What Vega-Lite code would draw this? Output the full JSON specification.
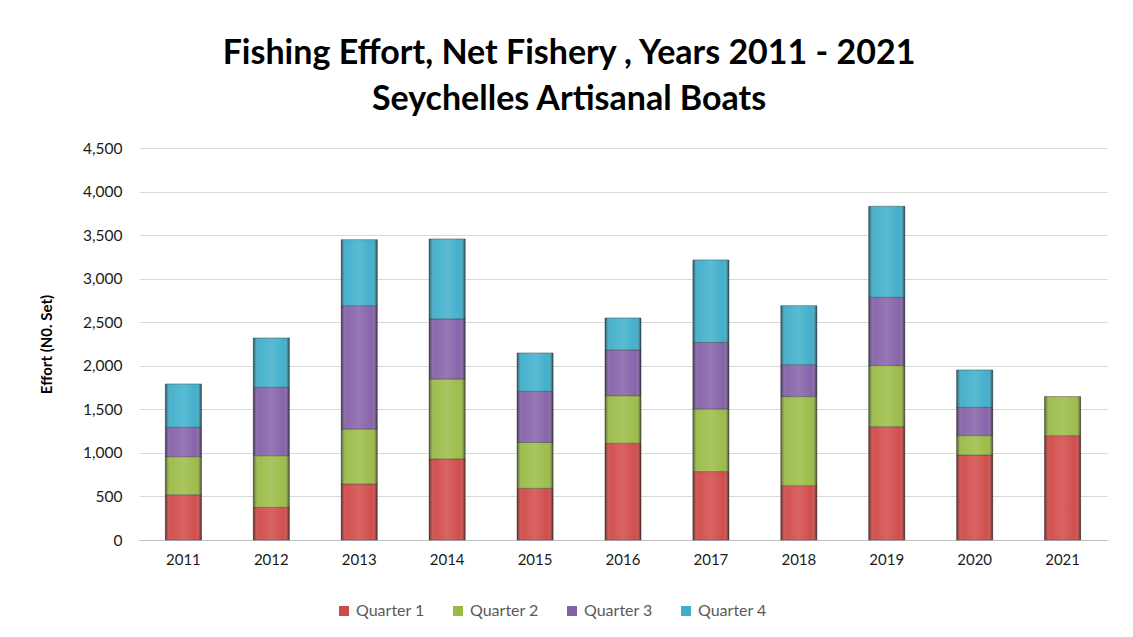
{
  "$schema": "https://vega.github.io/schema/vega-lite/v6.json",
  "width": 968,
  "height": 392,
  "autosize": {"type": "none"},
  "padding": {"left": 139, "top": 148, "right": 26, "bottom": 97},
  "background": "white",
  "title": {
    "text": ["Fishing Effort, Net Fishery , Years 2011 - 2021", "Seychelles Artisanal Boats"],
    "font": "Lato",
    "fontSize": 34,
    "fontWeight": "bold",
    "color": "#000000",
    "lineHeight": 46,
    "anchor": "middle",
    "dx": -54,
    "offset": 24
  },
  "data": {
    "values": [
      {"year": "2011", "quarter": "Quarter 1", "effort": 520},
      {"year": "2011", "quarter": "Quarter 2", "effort": 437},
      {"year": "2011", "quarter": "Quarter 3", "effort": 337},
      {"year": "2011", "quarter": "Quarter 4", "effort": 497},
      {"year": "2012", "quarter": "Quarter 1", "effort": 375},
      {"year": "2012", "quarter": "Quarter 2", "effort": 593},
      {"year": "2012", "quarter": "Quarter 3", "effort": 785},
      {"year": "2012", "quarter": "Quarter 4", "effort": 566},
      {"year": "2013", "quarter": "Quarter 1", "effort": 643},
      {"year": "2013", "quarter": "Quarter 2", "effort": 631},
      {"year": "2013", "quarter": "Quarter 3", "effort": 1416},
      {"year": "2013", "quarter": "Quarter 4", "effort": 758},
      {"year": "2014", "quarter": "Quarter 1", "effort": 930},
      {"year": "2014", "quarter": "Quarter 2", "effort": 918},
      {"year": "2014", "quarter": "Quarter 3", "effort": 689},
      {"year": "2014", "quarter": "Quarter 4", "effort": 919},
      {"year": "2015", "quarter": "Quarter 1", "effort": 593},
      {"year": "2015", "quarter": "Quarter 2", "effort": 528},
      {"year": "2015", "quarter": "Quarter 3", "effort": 586},
      {"year": "2015", "quarter": "Quarter 4", "effort": 440},
      {"year": "2016", "quarter": "Quarter 1", "effort": 1110},
      {"year": "2016", "quarter": "Quarter 2", "effort": 547},
      {"year": "2016", "quarter": "Quarter 3", "effort": 524},
      {"year": "2016", "quarter": "Quarter 4", "effort": 368},
      {"year": "2017", "quarter": "Quarter 1", "effort": 785},
      {"year": "2017", "quarter": "Quarter 2", "effort": 719},
      {"year": "2017", "quarter": "Quarter 3", "effort": 765},
      {"year": "2017", "quarter": "Quarter 4", "effort": 946},
      {"year": "2018", "quarter": "Quarter 1", "effort": 624},
      {"year": "2018", "quarter": "Quarter 2", "effort": 1022},
      {"year": "2018", "quarter": "Quarter 3", "effort": 367},
      {"year": "2018", "quarter": "Quarter 4", "effort": 677},
      {"year": "2019", "quarter": "Quarter 1", "effort": 1301},
      {"year": "2019", "quarter": "Quarter 2", "effort": 701},
      {"year": "2019", "quarter": "Quarter 3", "effort": 784},
      {"year": "2019", "quarter": "Quarter 4", "effort": 1045},
      {"year": "2020", "quarter": "Quarter 1", "effort": 976},
      {"year": "2020", "quarter": "Quarter 2", "effort": 222},
      {"year": "2020", "quarter": "Quarter 3", "effort": 325},
      {"year": "2020", "quarter": "Quarter 4", "effort": 429},
      {"year": "2021", "quarter": "Quarter 1", "effort": 1198},
      {"year": "2021", "quarter": "Quarter 2", "effort": 448}
    ]
  },
  "encoding": {
    "x": {
      "field": "year",
      "type": "ordinal",
      "scale": {"paddingInner": 0.59, "paddingOuter": 0.3},
      "axis": {
        "title": null,
        "labelAngle": 0,
        "labelFont": "Lato",
        "labelFontSize": 15,
        "labelColor": "#1a1a1a",
        "labelPadding": 12,
        "ticks": false,
        "domainColor": "#bfbfbf"
      }
    },
    "y": {
      "field": "effort",
      "type": "quantitative",
      "aggregate": "sum",
      "stack": "zero",
      "scale": {"domain": [0, 4500]},
      "axis": {
        "title": "Effort (N0. Set)",
        "titleFont": "Lato",
        "titleFontSize": 15,
        "titleFontWeight": "bold",
        "titleColor": "#000000",
        "titlePadding": 28,
        "values": [0, 500, 1000, 1500, 2000, 2500, 3000, 3500, 4000, 4500],
        "format": ",.0f",
        "labelFont": "Lato",
        "labelFontSize": 15.5,
        "labelColor": "#1a1a1a",
        "labelPadding": 17,
        "ticks": false,
        "domain": false,
        "gridColor": "#d9d9d9",
        "gridWidth": 1.2
      }
    },
    "order": {"field": "quarter", "type": "ordinal", "sort": "ascending"}
  },
  "layer": [
    {
      "mark": {"type": "bar", "stroke": "#3a3a3a", "strokeWidth": 0.8, "strokeOpacity": 0.6},
      "encoding": {
        "color": {
          "field": "quarter",
          "type": "nominal",
          "scale": {
            "domain": ["Quarter 1", "Quarter 2", "Quarter 3", "Quarter 4"],
            "range": ["#d04a48", "#9bbb45", "#8461a8", "#3eaecb"]
          },
          "legend": {
            "title": null,
            "orient": "none",
            "legendX": 197,
            "legendY": 455,
            "direction": "horizontal",
            "symbolType": "square",
            "symbolSize": 100,
            "symbolStrokeWidth": 0,
            "labelFont": "Lato",
            "labelFontSize": 16,
            "labelColor": "#595959",
            "labelOffset": 4,
            "columnPadding": 25
          }
        }
      }
    },
    {
      "mark": {
        "type": "bar",
        "fill": {
          "gradient": "linear",
          "x1": 0, "x2": 1, "y1": 0, "y2": 0,
          "stops": [
            {"offset": 0, "color": "rgba(0,0,0,0.5)"},
            {"offset": 0.15, "color": "rgba(255,255,255,0.05)"},
            {"offset": 0.5, "color": "rgba(255,255,255,0.15)"},
            {"offset": 0.85, "color": "rgba(255,255,255,0.02)"},
            {"offset": 1, "color": "rgba(0,0,0,0.55)"}
          ]
        }
      },
      "encoding": {"detail": {"field": "quarter"}}
    }
  ],
  "config": {
    "view": {"stroke": null},
    "font": "Lato"
  }
}
